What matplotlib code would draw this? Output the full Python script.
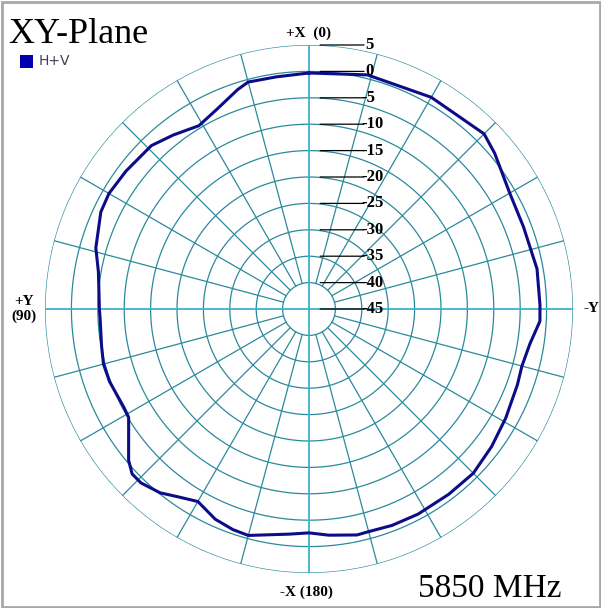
import numpy as np
import matplotlib.pyplot as plt
from matplotlib.patches import Rectangle

# measured pattern, degrees counter-clockwise from +X, gain in dB
angles = [0, 8, 15, 18, 25, 31, 38, 44, 53, 60, 65, 74, 80, 90, 93, 100, 105,
          110, 118, 121, 130, 133, 136, 141, 145, 150, 156, 161, 165, 175, 180,
          185, 192, 195, 201, 208, 217, 225, 233, 241, 250, 255, 261, 267, 271,
          280, 291, 300, 310, 315, 330, 346, 360]
gain_db = [-0.3, -0.6, -0.5, -1.3, -3.4, -4.5, -3.2, -2.0, -1.6, -1.25, -1.5,
           -3.0, -4.5, -5.3, -5.4, -5.1, -4.7, -4.8, -5.3, -5.15, -0.4, 0.8,
           0.8, -0.2, -1.6, -2.9, -1.4, -0.8, -0.6, -2.2, -2.6, -2.0, -1.25,
           -1.35, -1.1, -1.0, -1.05, -1.0, -1.7, -2.4, -3.0, -3.25, -2.65, -1.2,
           -1.25, -1.15, -1.5, -1.1, 0.9, 1.9, 1.3, 0.7, -0.3]

ring_values = [-40, -35, -30, -25, -20, -15, -10, -5, 0, 5]
ring_labels = ['5', '0', '-5', '-10', '-15', '-20', '-25', '-30', '-35', '-40', '-45']
label_values = [5, 0, -5, -10, -15, -20, -25, -30, -35, -40, -45]

r_min, r_max = -45, 5
grid_color = '#2a8a9c'
axis_color = '#3db2cc'
curve_color = '#0c0c88'

W, H = 601, 608
fig = plt.figure(figsize=(W / 100, H / 100), dpi=100)
fig.patch.set_facecolor('white')

cx, cy, rad = 309, 309, 264
ax = fig.add_axes([(cx - rad) / W, (H - cy - rad) / H, 2 * rad / W, 2 * rad / H],
                  projection='polar')
ax.set_theta_zero_location('N')
ax.set_theta_direction(1)
ax.set_ylim(r_min, r_max)
ax.grid(False)
ax.set_xticks([])
ax.set_yticks([])
ax.spines['polar'].set_visible(False)
ax.patch.set_alpha(0)

# rings
th = np.linspace(0, 2 * np.pi, 721)
for rv in ring_values:
    ax.plot(th, np.full_like(th, rv), color=grid_color, lw=0.9, zorder=1)

# spokes every 15 deg
for d in range(0, 360, 15):
    if d % 90 == 0:
        continue
    t = np.deg2rad(d)
    ax.plot([t, t], [-40, r_max], color=grid_color, lw=0.9, zorder=1)

# main axes through the centre
for d in (0, 90, 180, 270):
    t = np.deg2rad(d)
    ax.plot([t, t], [r_min, r_max], color=axis_color, lw=1.3, zorder=1)

# pattern
theta = np.deg2rad(angles)
ax.plot(theta, gain_db, color=curve_color, lw=2.2, zorder=3)

# dB scale along the +X axis
for lab, v in zip(ring_labels, label_values):
    x_off = 52 if lab.startswith('-') else 56
    ax.annotate(lab, xy=(0, v), xytext=(x_off, 0), textcoords='offset pixels',
                ha='left', va='center', fontsize=12, fontweight='bold',
                family='Liberation Serif', color='black', zorder=4)
    ax.annotate('', xy=(0, v), xytext=(55, 0), textcoords='offset pixels',
                arrowprops=dict(arrowstyle='-', color='black', lw=0.9,
                                shrinkA=0, shrinkB=8), zorder=4)

def ftext(px, py, s, **kw):
    fig.text(px / W, 1 - py / H, s, family='Liberation Serif', **kw)

ftext(8, 43, 'XY-Plane', fontsize=26, ha='left', va='baseline')
ftext(418, 597, '5850 MHz', fontsize=24, ha='left', va='baseline')
ftext(309, 33, '+X  (0)', fontsize=11, fontweight='bold', ha='center', va='center')
ftext(306, 592, '-X (180)', fontsize=11, fontweight='bold', ha='center', va='center')
ftext(24, 309, '+Y\n(90)', fontsize=11, fontweight='bold', ha='center', va='center',
      linespacing=1.2)
ftext(591, 309, '-Y', fontsize=11, fontweight='bold', ha='center', va='center')

# legend entry
fig.patches.append(Rectangle((20 / W, 1 - 68 / H), 13 / W, 13 / H,
                             transform=fig.transFigure, facecolor='#0000b0',
                             edgecolor='none'))
fig.text(39 / W, 1 - 61 / H, 'H+V', family='DejaVu Sans', fontsize=10,
         color='#404050', ha='left', va='center')

# frame
fig.patches.append(Rectangle((1.5 / W, 1.5 / H), (W - 3) / W, (H - 3) / H,
                             transform=fig.transFigure, facecolor='none',
                             edgecolor='#a8a8a8', lw=2))

fig.savefig('out.png', dpi=100)
